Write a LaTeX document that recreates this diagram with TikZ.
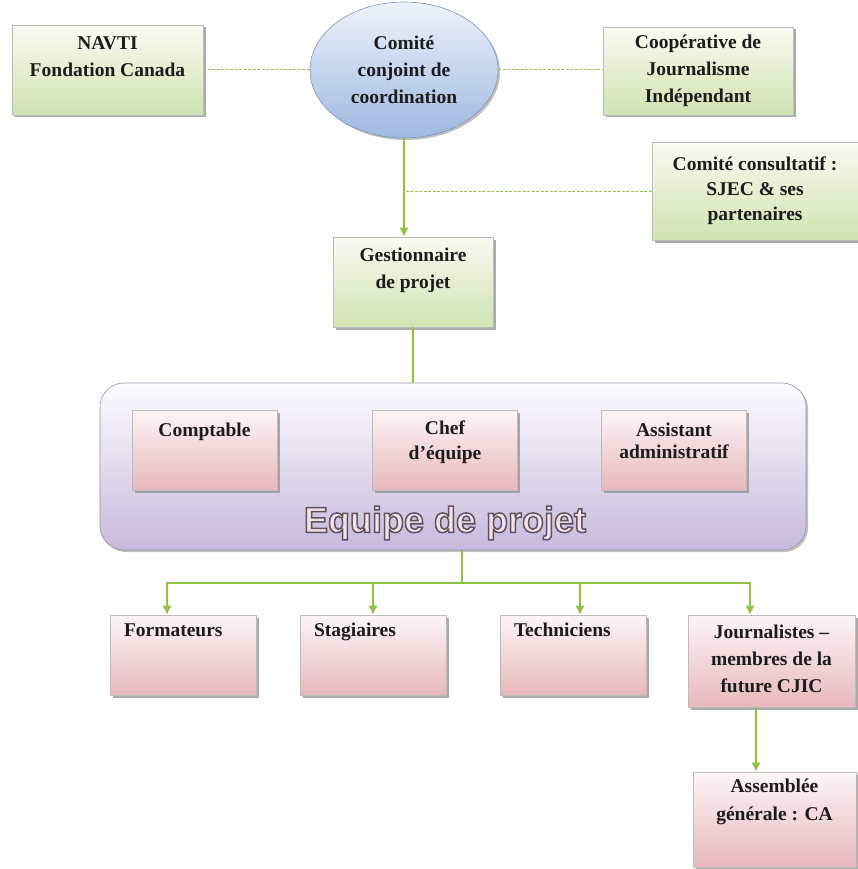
\documentclass[tikz,border=0pt]{standalone}
\usepackage{fontspec}
\setmainfont{Liberation Serif}
\setsansfont{Liberation Sans}
\usetikzlibrary{shapes.geometric,arrows.meta,shadows,calc,backgrounds}
\definecolor{vertHaut}{RGB}{249,251,243}
\definecolor{vertBas}{RGB}{208,227,176}
\definecolor{roseHaut}{RGB}{253,245,245}
\definecolor{roseBas}{RGB}{231,184,188}
\definecolor{bleuHaut}{RGB}{238,243,251}
\definecolor{bleuBas}{RGB}{158,184,224}
\definecolor{lilasHaut}{RGB}{253,252,255}
\definecolor{lilasBas}{RGB}{198,186,220}
\definecolor{trait}{RGB}{140,196,66}
\definecolor{traitClair}{RGB}{152,192,84}
\definecolor{cadre}{RGB}{188,188,188}
\definecolor{ombre}{RGB}{150,150,150}
\definecolor{texte}{RGB}{28,28,28}
\definecolor{titreFond}{RGB}{244,226,230}
\newcommand{\txtboite}{\fontsize{19.5}{27}\selectfont\bfseries}
\newcommand{\contourtitre}[1]{\special{pdf:literal direct 2 Tr 1.5 w 0.36 0.32 0.38 RG}#1\special{pdf:literal direct 0 Tr}}
\tikzset{boite/.style={draw=cadre, line width=0.6pt, align=center, font=\txtboite, text=texte, inner sep=4pt, drop shadow={shadow xshift=2.5pt, shadow yshift=-2.5pt, fill=ombre, opacity=0.8}}}
\tikzset{vert/.style={boite, top color=vertHaut, bottom color=vertBas}}
\tikzset{rose/.style={boite, top color=roseHaut, bottom color=roseBas, minimum width=145pt, minimum height=80pt}}
\tikzset{bas/.style={text height=#1, text depth=0pt}}
\tikzset{haut/.style={text height=0pt, text depth=#1}}
\tikzset{lien/.style={draw=trait, line width=1.2pt}}
\tikzset{fleche/.style={lien, -{Latex[length=9pt, width=9pt]}}}
\tikzset{pointille/.style={draw=traitClair, line width=1pt, dash pattern=on 3pt off 1.5pt}}

\begin{document}
\begin{tikzpicture}[x=1pt, y=-1pt]
  \useasboundingbox (0,0) rectangle (858,869);

  % Niveau du haut : partenaires et comite
  \node[vert, minimum width=191pt, minimum height=90pt, bas=14pt] (navti) at (107.5,70) {NAVTI\\Fondation Canada};
  \node[ellipse, draw={rgb,255:red,128;green,148;blue,184}, line width=0.6pt, top color=bleuHaut, bottom color=bleuBas, minimum width=188pt, minimum height=136pt, inner sep=0pt, align=center, font=\txtboite, text=texte, drop shadow={shadow xshift=2pt, shadow yshift=-2pt, fill=ombre, opacity=0.6}] (comite) at (404,70) {Comité\\conjoint de\\coordination};
  \node[vert, minimum width=190pt, minimum height=88pt, bas=64pt] (coop) at (698,71) {Coopérative de\\Journalisme\\Indépendant};
  \node[vert, minimum width=206pt, minimum height=98pt, bas=58pt, font=\fontsize{19.5}{25}\selectfont\bfseries] (consult) at (755,191) {Comité consultatif :\\SJEC \& ses\\partenaires};
  \node[vert, minimum width=160pt, minimum height=90pt, bas=12pt] (gest) at (413,282) {Gestionnaire\\de projet};

  % Equipe de projet
  \node[draw={rgb,255:red,150;green,148;blue,168}, line width=0.6pt, rounded corners=24pt, top color=lilasHaut, bottom color=lilasBas, minimum width=706pt, minimum height=167pt, drop shadow={shadow xshift=2pt, shadow yshift=-2pt, fill=ombre, opacity=0.6}] (equipe) at (453,466.5) {};
  \node[rose, haut=28pt] (compta) at (204.5,450) {Comptable};
  \node[rose, bas=18pt, font=\fontsize{19.5}{25}\selectfont\bfseries] (chef) at (445,450) {Chef\\d’équipe};
  \node[rose, bas=16pt, font=\fontsize{19.5}{22}\selectfont\bfseries] (assist) at (674,450) {Assistant\\administratif};
  \node[font=\sffamily\bfseries\fontsize{36}{40}\selectfont, text=titreFond] (titre) at (445,523) {\contourtitre{Equipe de projet}};

  % Membres
  \node[rose, text width=118pt, inner xsep=14pt, align=left, haut=38pt] (form) at (183,655) {Formateurs};
  \node[rose, text width=118pt, inner xsep=14pt, align=left, haut=38pt] (stag) at (373,655) {Stagiaires};
  \node[rose, text width=118pt, inner xsep=14pt, align=left, haut=38pt] (tech) at (573,655) {Techniciens};
  \node[rose, minimum width=167pt, minimum height=92pt, bas=62pt] (journ) at (771.5,661) {Journalistes –\\membres de la\\future CJIC};
  \node[rose, minimum width=163pt, minimum height=95pt, bas=1pt, font=\fontsize{19.5}{28}\selectfont\bfseries] (assemb) at (774.5,819.5) {Assemblée\\générale : CA};

  % Liaisons
  \draw[pointille] (navti.east) -- (comite.west);
  \draw[pointille] (comite.east) -- (comite.east -| coop.west);
  \draw[fleche] (comite.south) -- (comite.south |- gest.north);
  \draw[pointille] (consult.west) -- (consult.west -| comite.south);
  \draw[lien] (gest.south) -- (gest.south |- equipe.north);
  \coordinate (bus) at (462,583);
  \draw[lien] (bus |- equipe.south) -- (bus);
  \draw[fleche] (bus) -| ([xshift=-16pt]form.north);
  \draw[fleche] (bus) -| (stag.north);
  \draw[fleche] (bus) -| ([xshift=7pt]tech.north);
  \draw[fleche] (bus) -| ([xshift=-21.5pt]journ.north);
  \draw[fleche] ([xshift=-15.5pt]journ.south) -- ([xshift=-15.5pt]journ.south |- assemb.north);
\end{tikzpicture}
\end{document}
